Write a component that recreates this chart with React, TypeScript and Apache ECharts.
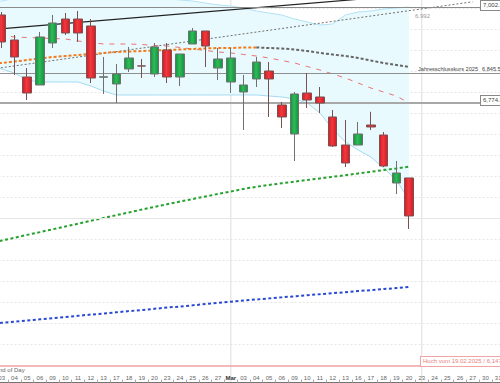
import React, { useEffect, useRef } from 'react';
import * as echarts from 'echarts';

const categories = [
  '2026-02-02', '2026-02-03', '2026-02-04', '2026-02-05', '2026-02-06',
  '2026-02-09', '2026-02-10', '2026-02-11', '2026-02-12', '2026-02-13',
  '2026-02-17', '2026-02-18', '2026-02-19', '2026-02-20',
  '2026-02-23', '2026-02-24', '2026-02-25', '2026-02-26', '2026-02-27',
  '2026-03-02', '2026-03-03', '2026-03-04', '2026-03-05', '2026-03-06',
  '2026-03-09', '2026-03-10', '2026-03-11', '2026-03-12', '2026-03-13',
  '2026-03-16', '2026-03-17', '2026-03-18', '2026-03-19', '2026-03-20',
  '2026-03-23', '2026-03-24', '2026-03-25', '2026-03-26', '2026-03-27',
  '2026-03-30', '2026-03-31',
];

// [open, close, low, high]
const candles = [
  [6930.0, 6965.0, 6920.0, 6975.0],
  [6983.2, 6918.9, 6904.6, 6990.3],
  [6923.6, 6883.2, 6840.3, 6935.5],
  [6835.5, 6797.4, 6780.8, 6856.9],
  [6816.5, 6930.8, 6816.5, 6942.7],
  [6916.5, 6964.1, 6904.6, 6983.2],
  [6973.6, 6940.3, 6935.5, 6987.9],
  [6973.6, 6940.3, 6918.9, 6992.7],
  [6957.0, 6833.1, 6821.2, 6973.6],
  [6835.0, 6836.0, 6795.1, 6883.2],
  [6818.9, 6842.7, 6773.6, 6866.5],
  [6854.6, 6880.8, 6847.4, 6907.0],
  [6861.9, 6861.7, 6833.1, 6878.4],
  [6842.7, 6907.0, 6835.5, 6916.5],
  [6899.8, 6835.5, 6821.2, 6916.5],
  [6835.5, 6890.3, 6814.1, 6890.3],
  [6914.1, 6945.1, 6914.1, 6952.2],
  [6945.1, 6909.3, 6859.3, 6945.1],
  [6856.9, 6878.4, 6828.4, 6904.6],
  [6823.6, 6880.8, 6797.4, 6904.6],
  [6799.8, 6816.5, 6709.3, 6840.3],
  [6830.8, 6871.2, 6811.7, 6883.2],
  [6849.8, 6830.8, 6740.3, 6871.2],
  [6768.9, 6740.3, 6714.1, 6776.0],
  [6699.8, 6795.1, 6635.5, 6799.8],
  [6797.4, 6780.8, 6761.7, 6845.0],
  [6787.9, 6773.6, 6749.8, 6811.7],
  [6740.3, 6671.3, 6668.9, 6757.0],
  [6673.6, 6630.8, 6621.2, 6733.1],
  [6673.6, 6699.8, 6673.6, 6728.4],
  [6721.2, 6716.5, 6709.3, 6752.6],
  [6697.4, 6623.6, 6621.2, 6704.6],
  [6583.1, 6606.9, 6557.0, 6635.5],
  [6595.1, 6504.6, 6473.6, 6595.1],
];

const bandUpper = [
  7014.0, 7016.5, 7023.0, 7030.0, 7035.0, 7038.0, 7040.0, 7040.0, 7038.0, 7035.0,
  7033.0, 7030.0, 7028.0, 7025.0, 7022.0, 7019.0, 7016.5, 7011.7, 7007.0, 7004.6,
  6999.8, 6992.7, 6987.9, 6983.2, 6973.6, 6966.5, 6959.3, 6961.7, 6983.2, 6990.3,
  6992.7, 6997.4, 6999.8, 7002.2,
];
const bandLower = [
  6866.5, 6854.6, 6845.0, 6828.4, 6823.6, 6823.6, 6823.6, 6823.6, 6814.1, 6802.2,
  6792.7, 6792.7, 6792.7, 6792.7, 6792.7, 6792.7, 6792.7, 6792.7, 6792.7, 6792.7,
  6792.7, 6792.7, 6790.3, 6787.9, 6783.1, 6773.6, 6749.8, 6711.7, 6680.8, 6661.7,
  6645.0, 6618.9, 6590.3, 6542.7,
];
const redDashedMA = [
  6937.9, 6935.5, 6930.8, 6929.6, 6928.4, 6927.2, 6926.0, 6921.2, 6917.7, 6914.1,
  6914.1, 6914.1, 6912.9, 6910.5, 6909.3, 6905.8, 6902.2, 6898.6, 6895.1, 6892.7,
  6889.1, 6885.5, 6880.8, 6874.8, 6868.9, 6860.5, 6852.2, 6842.7, 6833.1, 6821.2,
  6809.3, 6799.8, 6790.3, 6773.6,
];
const orangeMA = [
  6866.5, 6868.9, 6872.4, 6876.0, 6879.6, 6883.2, 6885.5, 6887.9, 6890.3, 6892.7,
  6895.1, 6896.3, 6897.4, 6898.6, 6899.8, 6901.0, 6902.2, 6903.4, 6904.6, 6904.6,
  6905.8, 6905.8,
];
const grayMAStart = 21;
const grayMA = [
  6905.8, 6904.6, 6903.4, 6901.0, 6897.4, 6892.7, 6889.1, 6885.5, 6880.8, 6874.8,
  6868.9, 6864.1, 6859.3,
];
const greenMA = [
  6439.1, 6446.0, 6452.7, 6459.6, 6466.2, 6472.9, 6479.6, 6486.2, 6493.1, 6499.8,
  6506.5, 6513.1, 6519.8, 6526.2, 6532.7, 6538.9, 6545.0, 6551.0, 6557.0, 6562.9,
  6568.9, 6574.1, 6578.4, 6582.4, 6586.2, 6590.3, 6594.1, 6597.9, 6601.7, 6605.8,
  6609.8, 6613.9, 6617.9, 6622.0,
];
const blueMA = [
  6247.4, 6250.3, 6252.9, 6255.8, 6258.6, 6261.2, 6264.1, 6267.0, 6269.8, 6272.4,
  6275.3, 6278.1, 6280.8, 6283.6, 6286.5, 6289.1, 6291.9, 6294.8, 6297.7, 6300.3,
  6303.1, 6305.8, 6308.4, 6310.8, 6313.4, 6315.8, 6318.4, 6320.8, 6323.1, 6325.8,
  6328.1, 6330.5, 6333.1, 6335.5,
];
const blackTrend = [[0, 6947.7], [40, 7048.2]];
const grayTrend = [[0, 6853.4], [38, 7014.6]];

const levelHigh = 7002.2;
const levelYearClose = 6845.5;
const levelSupport = 6774.8;
const levelHigh2025 = 6147.4;
const levelRound = 6500;
const bandLabelValue = '6.992';

const FONT = 'Liberation Sans, Arial, sans-serif';

export default function App() {
  const ref = useRef<HTMLDivElement>(null);

  useEffect(() => {
    if (!ref.current) return;
    const chart = echarts.init(ref.current, undefined, { renderer: 'svg' });

    const line = (name: string, data: any[], color: string, width: number, type: any, z = 3) => ({
      name,
      type: 'line',
      data,
      symbol: 'none',
      silent: true,
      z,
      connectNulls: true,
      lineStyle: { color, width, type },
    });

    const hGrad = (edge: string, mid: string) =>
      new echarts.graphic.LinearGradient(0, 0, 1, 0, [
        { offset: 0, color: edge },
        { offset: 0.45, color: mid },
        { offset: 1, color: edge },
      ]);

    chart.setOption({
      animation: false,
      grid: { left: -17.4, right: -4.53, top: -13.08, bottom: -2.9, containLabel: false, outerBoundsMode: 'none' },
      xAxis: {
        type: 'category',
        data: categories,
        boundaryGap: true,
        offset: -3.4,
        axisLine: { show: true, lineStyle: { color: '#444', width: 1.5 } },
        axisTick: { show: true, inside: true, length: 3, lineStyle: { color: '#aaa' } },
        axisLabel: {
          inside: true,
          interval: 0,
          margin: 2,
          fontSize: 6,
          color: '#666',
          fontFamily: FONT,
          hideOverlap: false,
          formatter: (v: string) => (v === '2026-03-02' ? '{b|Mar}' : v.slice(8)),
          rich: { b: { fontWeight: 'bold', color: '#333', fontSize: 6, fontFamily: FONT } },
        },
        splitLine: { show: false },
      },
      yAxis: {
        type: 'value',
        min: 6100,
        max: 7050,
        interval: 50,
        axisLabel: { show: false },
        axisLine: { show: false },
        axisTick: { show: false },
        splitLine: { show: true, lineStyle: { color: '#e6e6e6', type: [2, 2], width: 1 } },
      },
      series: [
        {
          name: 'bbLower',
          type: 'line',
          stack: 'bb',
          data: bandLower,
          symbol: 'none',
          silent: true,
          z: 1,
          lineStyle: { color: '#a6daf2', width: 1 },
        },
        {
          name: 'bbWidth',
          type: 'line',
          stack: 'bb',
          data: bandUpper.map((u, i) => +(u - bandLower[i]).toFixed(1)),
          symbol: 'none',
          silent: true,
          z: 1,
          lineStyle: { color: '#b3e2f6', width: 1 },
          areaStyle: { color: '#e8fafd', opacity: 1 },
        },
        {
          name: 'levels',
          type: 'line',
          data: [],
          silent: true,
          z: 2,
          markLine: {
            silent: true,
            symbol: 'none',
            label: { show: false },
            data: [
              { yAxis: levelRound, lineStyle: { color: '#e6e6e6', type: 'solid', width: 1 } },
              { yAxis: levelHigh, lineStyle: { color: '#8a8a8a', type: 'solid', width: 1 } },
              { yAxis: levelYearClose, lineStyle: { color: '#8f8f8f', type: 'solid', width: 1.2 } },
              { yAxis: levelSupport, lineStyle: { color: '#a8a8a8', type: 'solid', width: 2 } },
              { yAxis: levelHigh2025, lineStyle: { color: '#f2a3a3', type: 'solid', width: 1.5 } },
            ],
          },
        },
        line('blueMA', blueMA, '#2a48d6', 2, [3, 2.5]),
        line('greenMA', greenMA, '#26a12e', 2, [3, 2.5]),
        line('grayTrend', grayTrend, '#6f6f6f', 1, [2, 2]),
        line('blackTrend', blackTrend, '#222', 1.2, 'solid'),
        line('redMA', redDashedMA, '#ea7373', 1, [5, 6]),
        line('orangeMA', orangeMA.map((v, i) => [i, v]), '#f47a1c', 2, [3, 2]),
        line('grayMA', grayMA.map((v, i) => [i + grayMAStart, v]), '#666', 2, [3, 2]),
        {
          name: 'price',
          type: 'candlestick',
          data: candles,
          barWidth: 9,
          z: 5,
          silent: true,
          itemStyle: {
            color: hGrad('#13913f', '#2fbb58'),
            color0: hGrad('#d31a22', '#ef3a40'),
            borderColor: '#707070',
            borderColor0: '#7a5050',
            borderWidth: 1,
          },
        },
      ],
    });

    const py = (v: number) => (chart.convertToPixel({ yAxisIndex: 0 }, v) as number);
    const pxi = (i: number) => (chart.convertToPixel({ xAxisIndex: 0 }, i) as number);

    const boxStyle = (text: string, color: string, border: string) => ({
      text,
      fill: color,
      fontSize: 6,
      fontFamily: FONT,
      backgroundColor: '#fff',
      borderColor: border,
      borderWidth: 1,
      padding: [2, 2, 1, 2],
      verticalAlign: 'middle',
      align: 'left',
    });

    chart.setOption({
      graphic: [
        { type: 'line', silent: true, z: 0, shape: { x1: pxi(19), y1: 0, x2: pxi(19), y2: 383 }, style: { stroke: '#dddddd', lineWidth: 1 } },
        { type: 'line', silent: true, z: 0, shape: { x1: pxi(34), y1: 0, x2: pxi(34), y2: 383 }, style: { stroke: '#dddddd', lineWidth: 1 } },
        { type: 'text', silent: true, z: 10, x: 481, y: py(levelHigh) - 1.5, style: boxStyle('7,002.2', '#444', '#888') },
        { type: 'text', silent: true, z: 10, x: 415, y: 16, style: { text: bandLabelValue, fill: '#999', fontSize: 6, fontFamily: FONT, verticalAlign: 'middle' } },
        { type: 'text', silent: true, z: 10, x: 418, y: py(levelYearClose) - 4, style: { text: 'Jahresschlusskurs 2025', fill: '#444', fontSize: 5.6, fontFamily: FONT, verticalAlign: 'middle' } },
        { type: 'text', silent: true, z: 10, x: 482, y: py(levelYearClose) - 4, style: { text: '6,845.5', fill: '#444', fontSize: 5.6, fontFamily: FONT, verticalAlign: 'middle' } },
        { type: 'text', silent: true, z: 10, x: 481, y: py(levelSupport) - 2, style: boxStyle('6,774.8', '#444', '#888') },
        { type: 'text', silent: true, z: 10, x: 421, y: py(levelHigh2025) - 4.5, style: boxStyle('Hoch vom 19.02.2025 / 6,147.4', '#e88080', '#f2a3a3') },
        { type: 'text', silent: true, z: 10, x: -5, y: 370, style: { text: 'End of Day', fill: '#666', fontSize: 6, fontFamily: FONT, verticalAlign: 'middle' } },
      ],
    });

    return () => chart.dispose();
  }, []);

  return <div ref={ref} style={{ width: 500, height: 383, position: 'absolute', left: 0, top: 0 }} />;
}
